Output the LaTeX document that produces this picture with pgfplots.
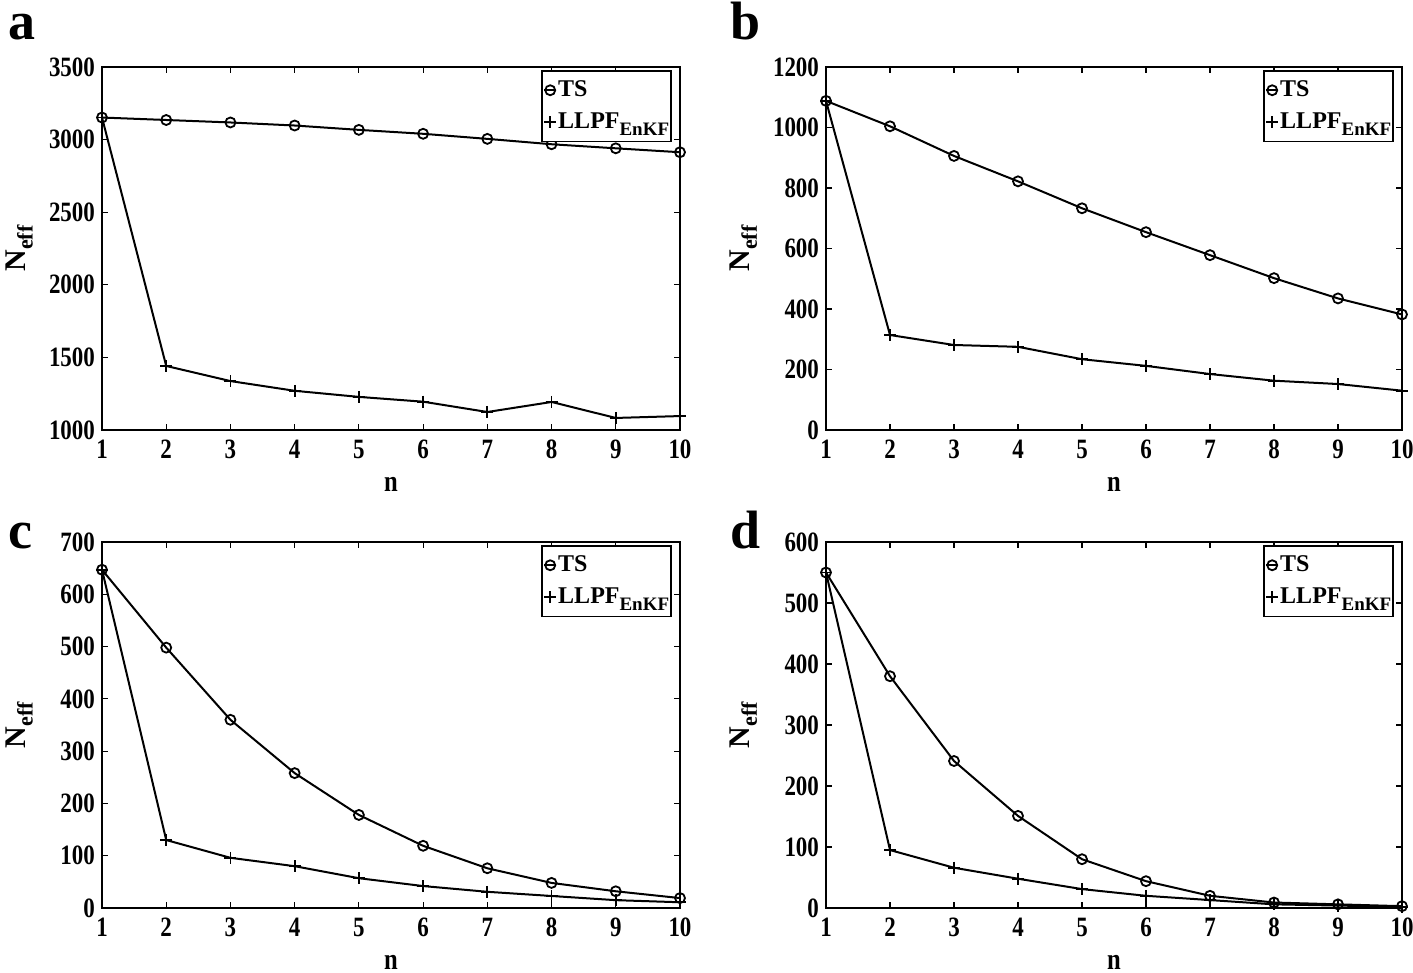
\documentclass[border=0pt]{standalone}
\usepackage{fontspec}
\setmainfont{Liberation Serif}
\newfontfamily\tickfont{Liberation Serif}[FakeStretch=0.82]
\usepackage{pgfplots}
\pgfplotsset{compat=1.18}
\newcommand{\llpf}{LLPF\raisebox{-0.6ex}{\fontsize{9.5}{9.5}\selectfont EnKF}}
\pgfplotsset{
  panel/.style={
    scale only axis,
    width=289pt,
    xmin=1, xmax=10, xtick={1,...,10},
    tick align=inside,
    major tick length=3pt,
    axis line style={line width=0.8pt},
    every tick/.style={line width=0.6pt, black},
    /pgf/number format/assume math mode=true,
    /pgf/number format/set thousands separator={},
    ticklabel style={font=\tickfont\fontsize{14}{14}\selectfont\bfseries},
    xticklabel style={yshift=-1.5pt},
    xlabel={n},
    ylabel={N\raisebox{-0.5ex}{\fontsize{11}{11}\selectfont eff}},
    xlabel style={font=\tickfont\fontsize{15}{15}\selectfont\bfseries, at={(axis description cs:0.5,0)}, anchor=center, yshift=-27pt},
    ylabel style={font=\fontsize{15}{15}\selectfont\bfseries, at={(axis description cs:-0.143,0.5)}, anchor=center},
    legend style={at={(axis description cs:1,1)}, anchor=north east, xshift=-4pt, yshift=-1.5pt,
      draw=black, line width=0.8pt, font=\fontsize{12}{12.5}\selectfont\bfseries,
      inner xsep=0.5pt, inner ysep=3pt, row sep=2.5pt, cells={anchor=west},
      nodes={inner xsep=0.5pt}},
    legend image code/.code={\draw[mark repeat=2,mark phase=2,#1] plot coordinates {(0pt,0pt)(3pt,0pt)(6pt,0pt)};},
  },
  ts/.style={black, line width=1pt, mark=o, mark size=2.5pt, mark options={line width=0.9pt}},
  ll/.style={black, line width=1pt, mark=+, mark size=3pt, mark options={line width=0.9pt}},
}
\begin{document}
\begin{tikzpicture}
\useasboundingbox (0,0) rectangle (706.5pt,-486.5pt);
% panel letters
\node[anchor=base west, inner sep=0pt, font=\fontsize{27}{27}\selectfont\bfseries] at (4pt,-20pt) {a};
\node[anchor=base west, inner sep=0pt, font=\fontsize{27}{27}\selectfont\bfseries] at (365pt,-20pt) {b};
\node[anchor=base west, inner sep=0pt, font=\fontsize{27}{27}\selectfont\bfseries] at (4pt,-274pt) {c};
\node[anchor=base west, inner sep=0pt, font=\fontsize{27}{27}\selectfont\bfseries] at (365pt,-274pt) {d};

\begin{axis}[panel, at={(51pt,-215pt)}, anchor=south west, height=181.5pt,
  ymin=1000, ymax=3500, ytick={1000,1500,...,3500}]
\addplot[ts] coordinates {(1,3152)(2,3135)(3,3118)(4,3097)(5,3067)(6,3040)(7,3005)(8,2968)(9,2940)(10,2913)};
\addplot[ll] coordinates {(1,3152)(2,1441)(3,1337)(4,1270)(5,1228)(6,1195)(7,1124)(8,1193)(9,1083)(10,1096)};
\legend{TS, \llpf}
\end{axis}

\begin{axis}[panel, at={(413pt,-215pt)}, anchor=south west, width=288pt, height=181.5pt,
  ymin=0, ymax=1200, ytick={0,200,...,1200}]
\addplot[ts] coordinates {(1,1088)(2,1004)(3,906)(4,822)(5,733)(6,654)(7,578)(8,502)(9,435)(10,382)};
\addplot[ll] coordinates {(1,1088)(2,314)(3,281)(4,275)(5,234)(6,212)(7,185)(8,163)(9,152)(10,130)};
\legend{TS, \llpf}
\end{axis}

\begin{axis}[panel, at={(51pt,-454pt)}, anchor=south west, height=183pt,
  ymin=0, ymax=700, ytick={0,100,...,700}]
\addplot[ts] coordinates {(1,647)(2,498)(3,360)(4,258)(5,178)(6,119)(7,76)(8,48)(9,32)(10,19)};
\addplot[ll] coordinates {(1,647)(2,130)(3,96)(4,80)(5,57)(6,42)(7,31)(8,23)(9,15)(10,11)};
\legend{TS, \llpf}
\end{axis}

\begin{axis}[panel, at={(413pt,-454pt)}, anchor=south west, width=288pt, height=183pt,
  ymin=0, ymax=600, ytick={0,100,...,600}]
\addplot[ts] coordinates {(1,550)(2,380)(3,241)(4,151)(5,80)(6,44)(7,20)(8,9)(9,6)(10,3)};
\addplot[ll] coordinates {(1,550)(2,95)(3,66)(4,48)(5,31)(6,20)(7,13)(8,6)(9,4)(10,2)};
\legend{TS, \llpf}
\end{axis}
\end{tikzpicture}
\end{document}
